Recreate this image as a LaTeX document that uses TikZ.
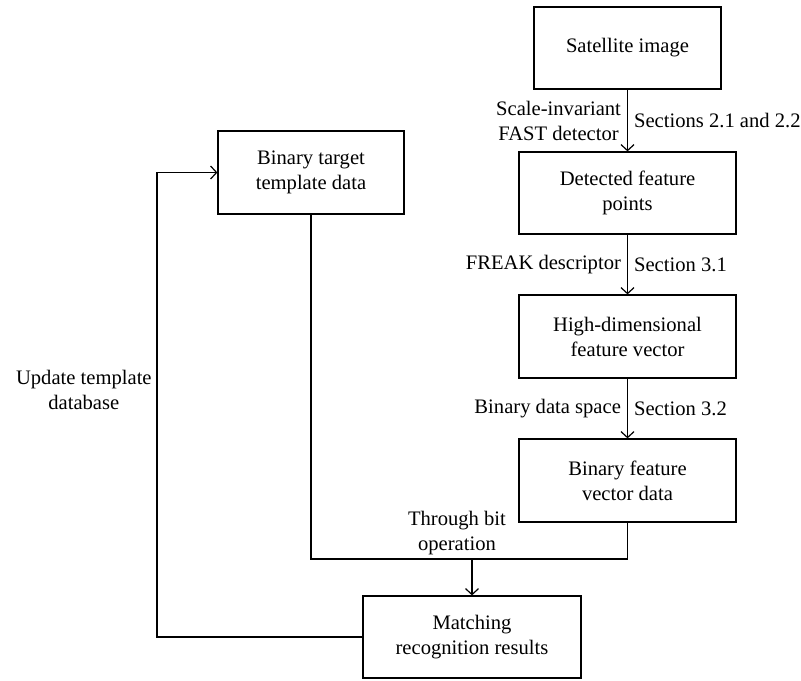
\documentclass[tikz,border=0pt]{standalone}
\usepackage{fontspec}
\setmainfont{Liberation Serif}
\usepackage{tikz}
\usetikzlibrary{positioning, arrows.meta, calc}

\tikzset{
  flowbox/.style={draw, line width=0.6pt, align=center, inner sep=2pt, font=\fontsize{10.3}{12.5}\selectfont},
  conn/.style={line width=0.6pt},
  arr/.style={conn, -{Straight Barb[length=3pt, width=6.5pt]}},
  lbl/.style={align=center, inner sep=3pt, font=\fontsize{10.3}{12.5}\selectfont}
}

\begin{document}
\begin{tikzpicture}[x=0.5pt, y=-0.5pt]
        \useasboundingbox (0,0) rectangle (801,680);

        % right column
        \node[flowbox, minimum width=93.5pt, minimum height=41pt] (sat) at (627.5,48) {Satellite image};
        \node[flowbox, minimum width=108.5pt, minimum height=41pt] (det) at (627.5,193) {Detected feature\\points};
        \node[flowbox, minimum width=108.5pt, minimum height=41.5pt] (hdim) at (627.5,336.5) {High-dimensional\\feature vector};
        \node[flowbox, minimum width=108.5pt, minimum height=41.5pt] (bfv) at (627.5,480.5) {Binary feature\\vector data};

        % left part
        \node[flowbox, minimum width=93pt, minimum height=41.5pt] (tmpl) at (311,172.5) {Binary target\\template data};
        \node[flowbox, minimum width=109pt, minimum height=41pt] (match) at (472,637) {Matching\\recognition results};

        \draw[arr] (sat) -- (det)
          node[midway, left, lbl] {Scale-invariant\\FAST detector}
          node[midway, right, lbl] {Sections 2.1 and 2.2};
        \draw[arr] (det) -- (hdim)
          node[midway, left, lbl] {FREAK descriptor}
          node[midway, right, lbl] {Section 3.1};
        \draw[arr] (hdim) -- (bfv)
          node[midway, left, lbl] {Binary data space}
          node[midway, right, lbl] {Section 3.2};

        % merge of both data
        \coordinate (merge) at (472,559);
        \draw[conn] (tmpl.south) |- (merge);
        \draw[conn] (bfv.south) |- (merge);
        \draw[arr] (merge) -- (match.north);
        \node[lbl, above, inner sep=2pt] (bitop) at ($(merge)+(-15,0)$) {Through bit\\operation};

        % feedback
        \coordinate (fb) at (157,390);
        \draw[arr] (match.west) -| (fb) |- (tmpl.west);
        \node[lbl, left, inner sep=2.5pt] (upd) at (fb) {Update template\\database};
      \end{tikzpicture}
\end{document}
